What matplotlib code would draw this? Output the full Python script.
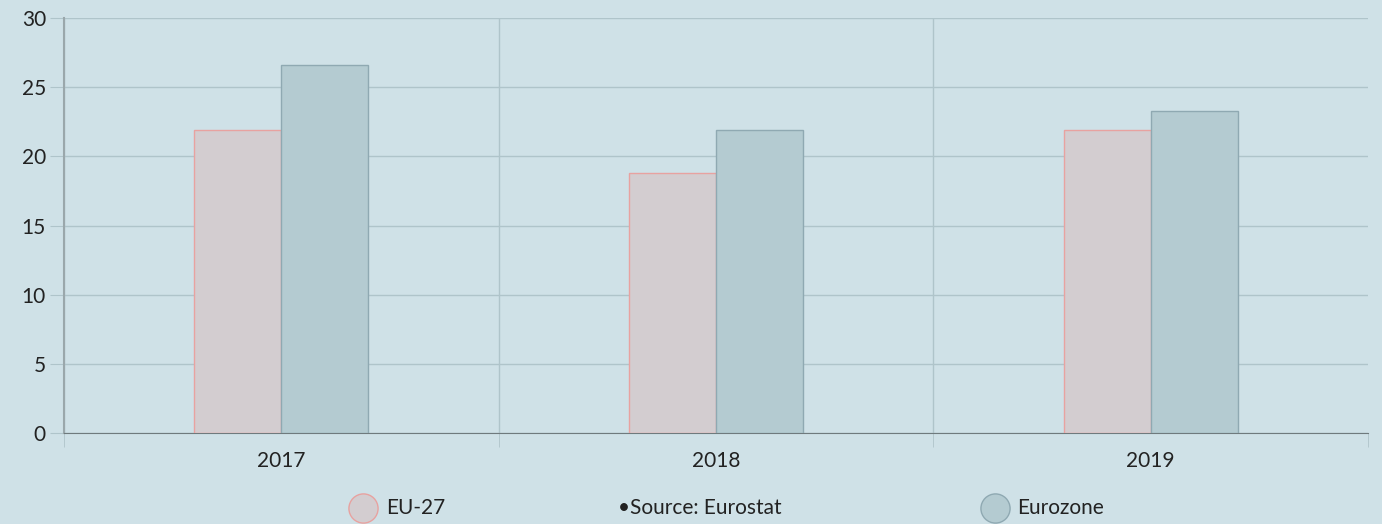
import numpy as np
import matplotlib.pyplot as plt
from matplotlib.lines import Line2D

plt.rcParams['font.family'] = ['Lato', 'DejaVu Sans']

years = ['2017', '2018', '2019']
eu27 = [21.9, 18.8, 21.9]
eurozone = [26.6, 21.9, 23.3]
yticks = [0, 5, 10, 15, 20, 25, 30]

bg = '#cfe1e7'
fig = plt.figure(figsize=(13.82, 5.24), dpi=100, facecolor=bg)
ax = fig.add_axes([64 / 1382, 1 - 433 / 524, (1368 - 64) / 1382, (433 - 18) / 524])
ax.set_facecolor(bg)

x = np.arange(len(years))
w = 0.2
ax.bar(x - w / 2, eu27, w, color='#d3cdd0', edgecolor='#e8a2a0', linewidth=1, zorder=3)
ax.bar(x + w / 2, eurozone, w, color='#b4cbd1', edgecolor='#8fa9b2', linewidth=1, zorder=3)

ax.set_xlim(-0.5, 2.5)
ax.set_ylim(0, 30)
ax.set_yticks(yticks)
ax.set_yticklabels([str(t) for t in yticks])
ax.set_xticks(x)
ax.set_xticklabels(years)
ax.set_xticks([-0.5, 0.5, 1.5, 2.5], minor=True)

ax.grid(axis='y', color='#afc4ca', linewidth=1, zorder=0)
ax.grid(axis='x', which='minor', color='#afc4ca', linewidth=1, zorder=0)
ax.tick_params(axis='x', which='major', length=0, pad=13, labelsize=15, colors='#222222')
ax.tick_params(axis='x', which='minor', length=10, color='#afc4ca')
ax.tick_params(axis='y', length=10, color='#afc4ca', labelsize=15, pad=3, labelcolor='#222222')
# no gridline on the right edge
ax.xaxis.get_minor_ticks()[-1].gridline.set_visible(False)

for s in ['top', 'right']:
    ax.spines[s].set_visible(False)
ax.spines['left'].set_color('#9aa7ab')
ax.spines['left'].set_linewidth(1.5)
ax.spines['bottom'].set_color('#6f7a7d')

# legend row
ly = 1 - 508 / 524
fig.add_artist(Line2D([363 / 1382], [ly], marker='o', markersize=21,
                      markerfacecolor='#d3cdd0', markeredgecolor='#e8a2a0', transform=fig.transFigure))
fig.text(386 / 1382, ly, 'EU-27', va='center', ha='left', fontsize=15, color='#222222')
fig.text(618 / 1382, ly, '\u2022Source: Eurostat', va='center', ha='left', fontsize=15, color='#222222')
fig.add_artist(Line2D([995 / 1382], [ly], marker='o', markersize=21,
                      markerfacecolor='#b4cbd1', markeredgecolor='#8fa9b2', transform=fig.transFigure))
fig.text(1017 / 1382, ly, 'Eurozone', va='center', ha='left', fontsize=15, color='#222222')

fig.savefig('out.png', dpi=100, facecolor=bg)
